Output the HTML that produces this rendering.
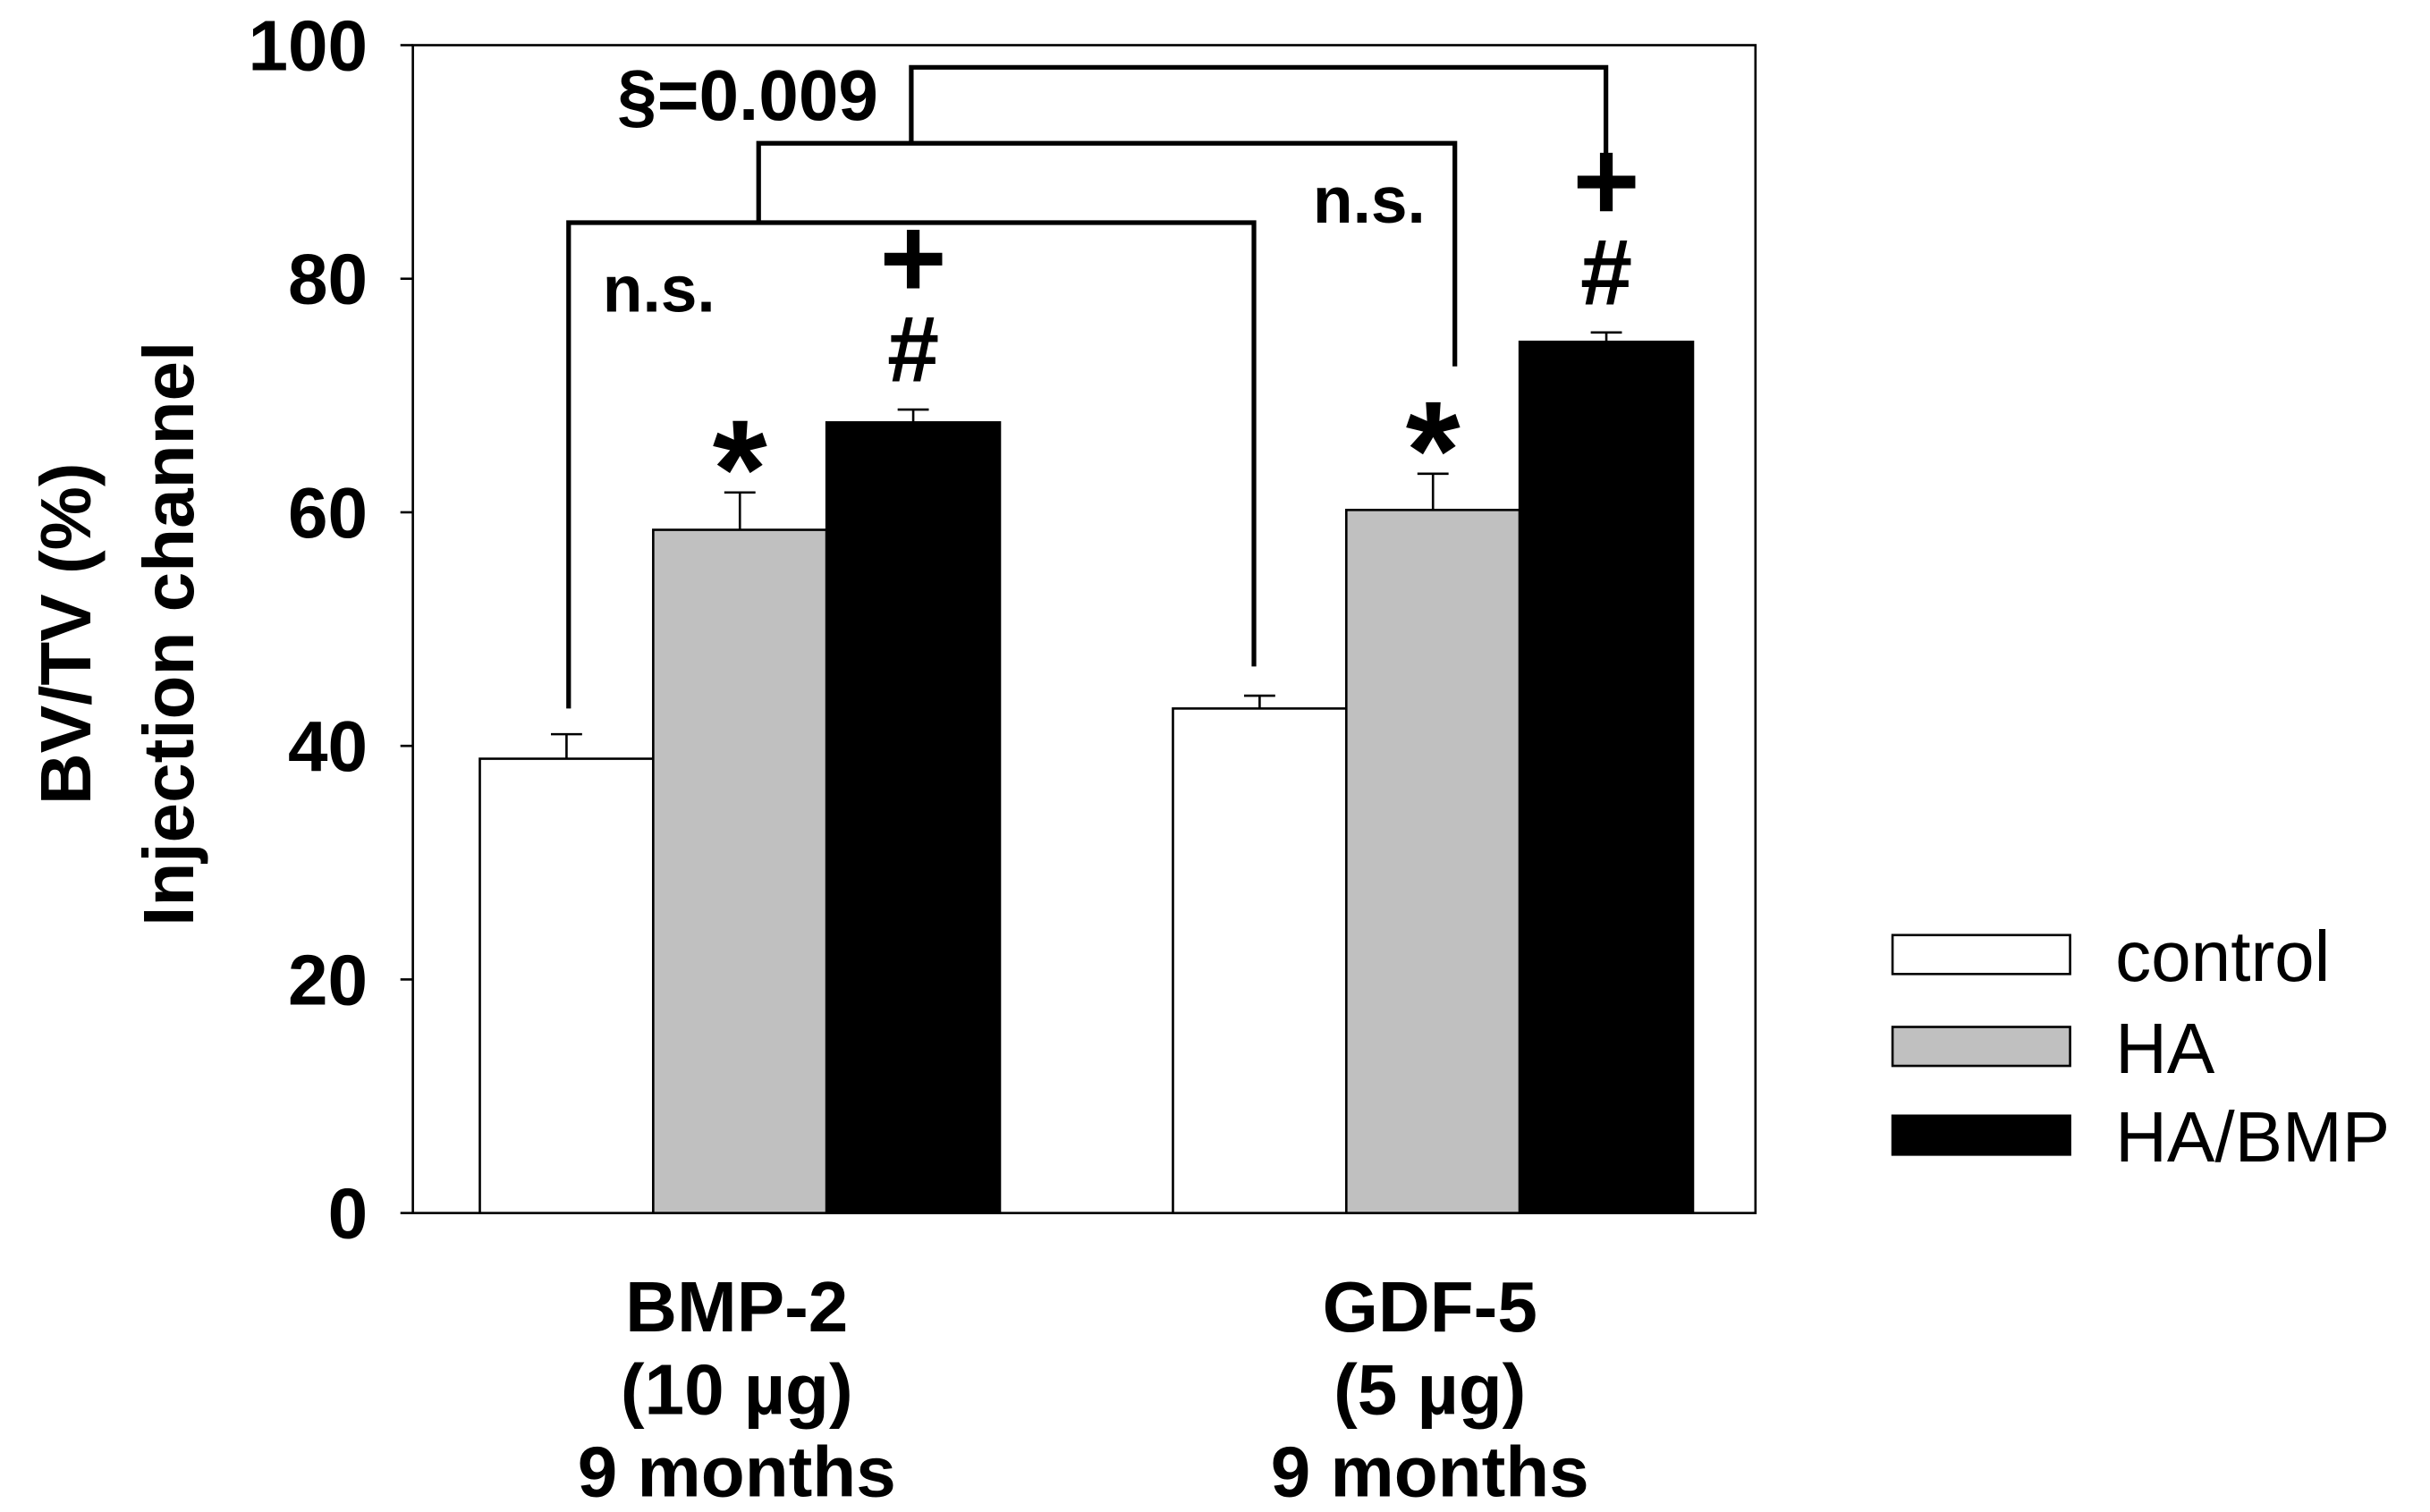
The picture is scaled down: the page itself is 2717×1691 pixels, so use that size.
<!DOCTYPE html>
<html><head><meta charset="utf-8"><style>
html,body{margin:0;padding:0;background:#fff}
svg{display:block}
text{font-family:"Liberation Sans",Arial,sans-serif;fill:#000}
</style></head><body>
<svg id="chart" width="2717" height="1691" viewBox="0 0 1560 971" xmlns="http://www.w3.org/2000/svg">
<g id="plot"></g>
</svg>
<script>
const categories = ["BMP-2|(10 µg)|9 months", "GDF-5|(5 µg)|9 months"];
const seriesNames = ["control", "HA", "HA/BMP"];
const controlValues = [38.9, 43.2];
const haValues = [58.5, 60.2];
const habmpValues = [67.7, 74.6];
const controlErr = [2.1, 1.1];
const haErr = [3.2, 3.1];
const habmpErr = [1.1, 0.8];
const yTicks = [0, 20, 40, 60, 80, 100];

const NS = "http://www.w3.org/2000/svg";
const g = document.getElementById("plot");
const L = 265, R = 1127, T = 29, B = 779;
const y = v => B - (v / 100) * (B - T);
const groupStart = [308, 753];
const barW = 111.3;
const x = (gi, si) => groupStart[gi] + si * barW;
const fills = ["#ffffff", "#c0c0c0", "#000000"];
const vals = [controlValues, haValues, habmpValues];
const errs = [controlErr, haErr, habmpErr];

function mk(tag, attrs, parent) {
  const e = document.createElementNS(NS, tag);
  for (const k in attrs) e.setAttribute(k, attrs[k]);
  (parent || g).appendChild(e);
  return e;
}

const frame = mk("rect", {x: L, y: T, width: R - L, height: B - T, fill: "none", stroke: "#000", "stroke-width": 1.5});



yTicks.forEach(t => {
  const ln = mk("line", {x1: L - 8, x2: L, y1: y(t), y2: y(t), stroke: "#000", "stroke-width": 1.5});
  
  
  const tx = mk("text", {x: 236, y: y(t) + 16, "text-anchor": "end", "font-size": 46, "font-weight": "bold"});
  tx.textContent = t;
  
  
});

for (let gi = 0; gi < categories.length; gi++) {
  for (let si = 0; si < 3; si++) {
    const v = vals[si][gi], e = errs[si][gi];
    const cx = x(gi, si) + barW / 2;
    const eb = mk("line", {x1: cx, x2: cx, y1: y(v), y2: y(v + e), stroke: "#000", "stroke-width": 1.5});
    
    
    const cap = mk("line", {x1: cx - 10, x2: cx + 10, y1: y(v + e), y2: y(v + e), stroke: "#000", "stroke-width": 1.5});
    
    
    const r = mk("rect", {x: x(gi, si), y: y(v), width: barW, height: B - y(v), fill: fills[si], stroke: "#000", "stroke-width": 1.5});
    
    
  }
  const lines = categories[gi].split("|");
  const cx = x(gi, 1) + barW / 2;
  lines.forEach((s, i) => {
    const tx = mk("text", {x: cx - 2, y: 855 + i * 53, "text-anchor": "middle", "font-size": 46, "font-weight": "bold"});
    tx.textContent = s;
    
    
  });
  const haTop = y(haValues[gi] + haErr[gi]);
  const st = mk("text", {x: x(gi, 1) + barW / 2, y: haTop + 16, "text-anchor": "middle", "font-size": 90, "font-weight": "bold"});
  st.textContent = "*";
  
  
  const bTop = y(habmpValues[gi] + habmpErr[gi]);
  const hx = x(gi, 2) + barW / 2;
  const hs = mk("text", {x: hx, y: bTop - 18, "text-anchor": "middle", "font-size": 60, "font-weight": "bold"});
  hs.textContent = "#";
  
  
  const pl = mk("text", {x: hx, y: bTop - 72, "text-anchor": "middle", "font-size": 74, "font-weight": "bold"});
  pl.textContent = "+";
  
  
}

const brackets = [[365, 43.2, 84.8, 805, 46.8], [487, 84.8, 91.6, 934, 72.5], [585, 91.6, 98.1, 1031, 89.2]];
brackets.forEach(b => {
  const p = mk("polyline", {points: `${b[0]},${y(b[1])} ${b[0]},${y(b[2])} ${b[3]},${y(b[2])} ${b[3]},${y(b[4])}`, fill: "none", stroke: "#000", "stroke-width": 3});
  
  
});
[["n.s.", 423, 200], ["n.s.", 879, 143], ["§=0.009", 480, 77]].forEach(a => {
  const tx = mk("text", {x: a[1], y: a[2], "text-anchor": "middle", "font-size": a[0] === "n.s." ? 42 : 46, "font-weight": "bold"});
  tx.textContent = a[0];
  
  
});

[["BV/TV (%)", 58], ["Injection channel", 124]].forEach(a => {
  const tx = mk("text", {x: 0, y: 0, transform: `translate(${a[1]},407) rotate(-90)`, "text-anchor": "middle", "font-size": 46, "font-weight": "bold"});
  tx.textContent = a[0];
  
  
});

const legY = [613, 672, 729];
seriesNames.forEach((n, i) => {
  const r = mk("rect", {x: 1215, y: legY[i] - 12.5, width: 114, height: 25, fill: fills[i], stroke: "#000", "stroke-width": 1.5});
  
  
  const tx = mk("text", {x: 1358, y: legY[i] + 17, "font-size": 46});
  tx.textContent = n;
  
  
});
</script>
</body></html>
